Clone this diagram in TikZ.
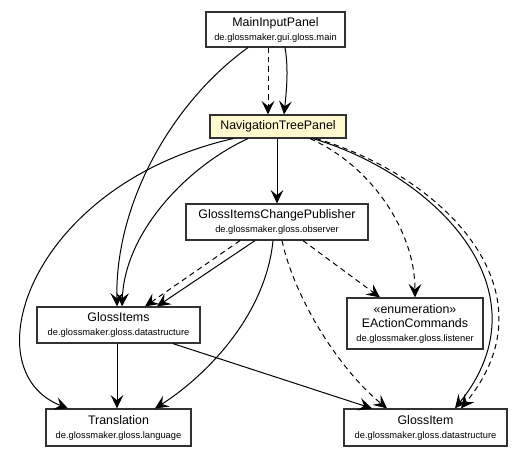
\documentclass[tikz,border=0pt]{standalone}
\usepackage{fontspec}
\setmainfont{Liberation Sans}
\usetikzlibrary{arrows.meta,calc}
\definecolor{navfill}{RGB}{255,250,205}
\definecolor{boxline}{RGB}{50,50,50}
\newcommand{\nmf}{\fontsize{9.3pt}{11pt}\selectfont}
\newcommand{\pkf}{\fontsize{7pt}{9pt}\selectfont}
\begin{document}
\begin{tikzpicture}[x=0.75pt,y=-0.75pt,
  cls/.style={draw=boxline,line width=0.9pt,fill=white,rectangle,inner sep=0pt,align=center},
  dep/.style={line width=0.75pt,-{Stealth[length=10pt,width=9.5pt,inset=3.8pt]}},
  ddep/.style={dep,dash pattern=on 4pt off 3pt}]
\useasboundingbox (0,0) rectangle (527,456);
\node[cls,minimum width=139*0.75pt,minimum height=35*0.75pt] (main) at (275.5,29.5)
  {\nmf MainInputPanel\\[-1.5pt]\pkf de.glossmaker.gui.gloss.main};
\node[cls,fill=navfill,minimum width=136*0.75pt,minimum height=23*0.75pt] (nav) at (278,126.5)
  {\nmf NavigationTreePanel};
\node[cls,minimum width=182*0.75pt,minimum height=36*0.75pt] (pub) at (277,222)
  {\nmf GlossItemsChangePublisher\\[-1.5pt]\pkf de.glossmaker.gloss.observer};
\node[cls,minimum width=163*0.75pt,minimum height=36*0.75pt] (items) at (118.5,325)
  {\nmf GlossItems\\[-1.5pt]\pkf de.glossmaker.gloss.datastructure};
\node[cls,minimum width=136*0.75pt,minimum height=51*0.75pt] (enum) at (415,323.5)
  {\nmf «enumeration»\\[-1.5pt]\nmf EActionCommands\\[-1.5pt]\pkf de.glossmaker.gloss.listener};
\node[cls,minimum width=145*0.75pt,minimum height=37*0.75pt] (trans) at (118.5,427.5)
  {\nmf Translation\\[-1.5pt]\pkf de.glossmaker.gloss.language};
\node[cls,minimum width=163*0.75pt,minimum height=37*0.75pt] (item) at (425.5,427.5)
  {\nmf GlossItem\\[-1.5pt]\pkf de.glossmaker.gloss.datastructure};
% MainInputPanel
\draw[dep] ($(main.south)+(-27.5,0)$) .. controls (175,100) and (115,200) .. ($(items.north)+(-1.5,0)$);
\draw[ddep] ($(main.south)+(-7.5,0)$) -- ($(nav.north)+(-10,0)$);
\draw[dep] ($(main.south)+(9.5,0)$) .. controls (289,70) and (286,95) .. ($(nav.north)+(6,0)$);
% NavigationTreePanel
\draw[dep] ($(nav.south)+(-45,0)$) .. controls (30,185) and (-30,370) .. ($(trans.north)+(-50.5,0)$);
\draw[dep] ($(nav.south)+(-30,0)$) .. controls (190,165) and (125,230) .. ($(items.north)+(3.5,0)$);
\draw[dep] ($(nav.south)+(-1,0)$) -- (pub.north);
\draw[ddep] ($(nav.south)+(32,0)$) .. controls (370,165) and (415,230) .. (enum.north);
\draw[dep] ($(nav.south)+(35,0)$) .. controls (435,175) and (550,290) .. ($(item.north)+(29.5,0)$);
\draw[ddep] ($(nav.south)+(38,0)$) .. controls (441,175) and (558,290) .. ($(item.north)+(35.5,0)$);
% GlossItemsChangePublisher
\draw[ddep] ($(pub.south)+(-37,0)$) -- ($(items.north)+(26.5,0)$);
\draw[dep] ($(pub.south)+(-22,0)$) -- ($(items.north)+(38.5,0)$);
\draw[dep] ($(pub.south)+(-4,0)$) .. controls (265,320) and (200,380) .. ($(trans.north)+(36.5,0)$);
\draw[ddep] ($(pub.south)+(26,0)$) -- ($(enum.north)+(-35,0)$);
\draw[ddep] ($(pub.south)+(5,0)$) .. controls (295,300) and (340,370) .. ($(item.north)+(-38.5,0)$);
% GlossItems
\draw[dep] ($(items.south)+(-1.5,0)$) -- ($(trans.north)+(-1.5,0)$);
\draw[dep] ($(items.south)+(54.5,0)$) -- ($(item.north)+(-53.5,0)$);
\end{tikzpicture}
\end{document}
